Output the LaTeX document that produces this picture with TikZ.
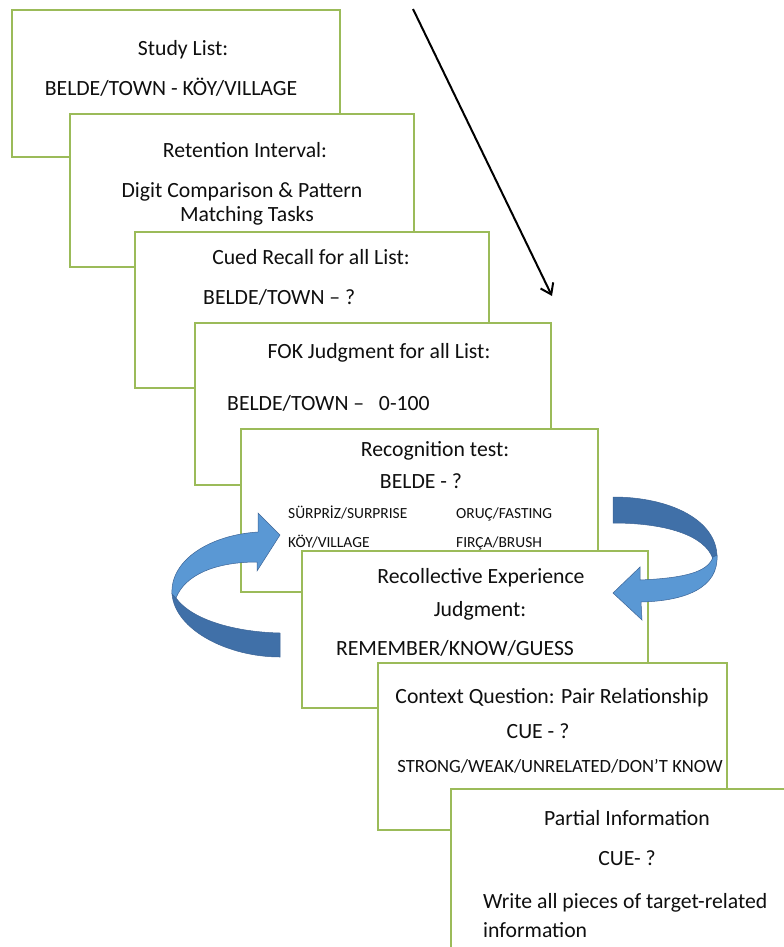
\documentclass[tikz,border=0pt]{standalone}
\usepackage{fontspec}
\setmainfont{Carlito}
\usetikzlibrary{arrows.meta}
\definecolor{boxgreen}{RGB}{155,187,89}
\definecolor{arrlight}{RGB}{90,152,212}
\definecolor{arrdark}{RGB}{64,112,168}
\definecolor{arredge}{RGB}{60,100,150}
\definecolor{txt}{RGB}{15,15,15}
\begin{document}
\begin{tikzpicture}[x=1bp,y=-1bp,
  stagebox/.style={draw=boxgreen,line width=1.3bp,fill=white},
  lbl/.style={anchor=base,inner sep=0pt,text=txt,font=\fontsize{21.8}{25}\selectfont},
  lblw/.style={lbl,anchor=base west},
  small/.style={anchor=base west,inner sep=0pt,text=txt,font=\fontsize{15.5}{18}\selectfont},
  mid/.style={anchor=base,inner sep=0pt,text=txt,font=\fontsize{18.7}{22}\selectfont},
  ribbonlight/.style={fill=arrlight,draw=arredge,line width=0.5bp},
  ribbondark/.style={fill=arrdark,draw=arredge,line width=0.5bp}]
\useasboundingbox (0,0) rectangle (784,947);
\clip (0,0) rectangle (784,947);

% Box 1
\path[stagebox] (12,10) rectangle (340,157);
\node[lbl] (b1a) at (183,55) {Study List:};
\node[lbl] (b1b) at (171,95) {BELDE/TOWN - KÖY/VILLAGE};
% Box 2
\path[stagebox] (70,114) rectangle (414,267);
\node[lbl] (b2a) at (245,157) {Retention Interval:};
\node[lbl] (b2b) at (242,197) {Digit Comparison \& Pattern};
\node[lbl] (b2c) at (247,221) {Matching Tasks};
% Box 3
\path[stagebox] (135,232) rectangle (489,388);
\node[lbl] (b3a) at (311,264) {Cued Recall for all List:};
\node[lblw] (b3b) at (203,304) {BELDE/TOWN – ?};
% Box 4
\path[stagebox] (195,323) rectangle (551,485);
\node[lbl] (b4a) at (379,358) {FOK Judgment for all List:};
\node[lblw] (b4b) at (227,410) {BELDE/TOWN –\ \ \ 0-100};
% Box 5
\path[stagebox] (241,429) rectangle (598,592);
\node[lbl] (b5a) at (435,456) {Recognition test:};
\node[lbl] (b5b) at (421,488) {BELDE - ?};
\node[small] (b5c) at (288,518) {SÜRPRİZ/SURPRISE};
\node[small] (b5d) at (456,518) {ORUÇ/FASTING};
\node[small] (b5e) at (288,547) {KÖY/VILLAGE};
\node[small] (b5f) at (456,547) {FIRÇA/BRUSH};
% Box 6
\path[stagebox] (302,551) rectangle (648,708);
\node[lbl] (b6a) at (481,583) {Recollective Experience};
\node[lbl] (b6b) at (480,616) {Judgment:};
\node[lbl] (b6c) at (455,655) {REMEMBER/KNOW/GUESS};
% Box 7
\path[stagebox] (378,663) rectangle (727,830);
\node[lbl] (b7a) at (552,703) {Context Question: Pair Relationship};
\node[lbl] (b7b) at (538,738) {CUE - ?};
\node[mid] (b7c) at (560,772) {STRONG/WEAK/UNRELATED/DON’T KNOW};
% Box 8
\path[stagebox] (451,789) rectangle (810,970);
\node[lbl] (b8a) at (627,825) {Partial Information};
\node[lbl] (b8b) at (627,865) {CUE- ?};
\node[lblw] (b8c) at (483,908) {Write all pieces of target-related};
\node[lblw] (b8d) at (483,937) {information};

% main arrow
\coordinate (mstart) at (413,9);
\coordinate (mend) at (552,296);
\draw[line width=2bp,-{Straight Barb[length=10bp,width=14bp,line width=2bp]}] (mstart) -- (mend);

% left curved arrow
\path[ribbondark] (280,633) .. controls (235,632) and (192,620) .. (176,598)
  -- (172,594) .. controls (175,630) and (228,657) .. (280,657) -- cycle;
\path[ribbonlight] (172,594) .. controls (170,560) and (210,535) .. (258,532)
  -- (258,513) -- (280,535) -- (257,571) -- (257,562)
  .. controls (215,562) and (185,575) .. (176,598) -- cycle;

% right curved arrow
\path[ribbondark] (613,497) .. controls (670,497) and (717,520) .. (717,557)
  -- (713,559) .. controls (705,535) and (665,523) .. (613,523) -- cycle;
\path[ribbonlight] (717,555) .. controls (719,588) and (685,601) .. (641,602)
  -- (642,620) -- (613,593) -- (640,567) -- (640,580)
  .. controls (685,578) and (708,572) .. (713,557) -- cycle;
\end{tikzpicture}
\end{document}
